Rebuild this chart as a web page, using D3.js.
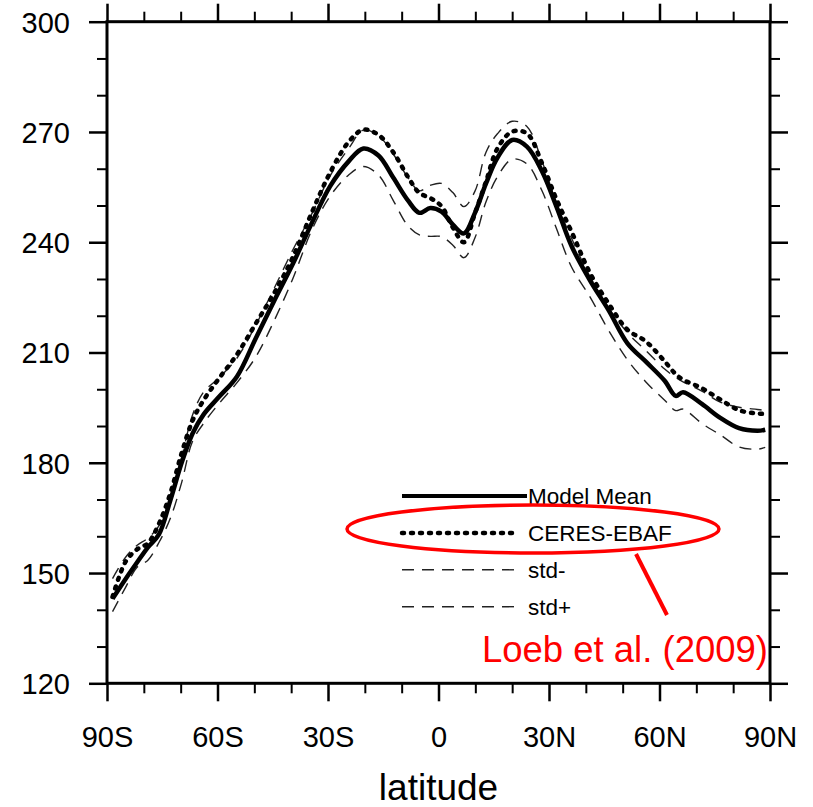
<!DOCTYPE html>
<html>
<head>
<meta charset="utf-8">
<script src="https://cdn.jsdelivr.net/npm/d3@7"></script>
<style>
  body { margin: 0; background: #fff; }
  svg { font-family: "Liberation Sans", Arial, Helvetica, sans-serif; }
</style>
</head>
<body>
<svg width="813" height="807"></svg>
<script>
// latitude (deg, negative = south)
const lats = [-88.5, -84.95, -81.9, -78.9, -75.9, -72.8, -69.8, -66.8, -63.8, -59.7, -54.7, -49.6, -44.6, -39.5, -34.5, -29.45, -24.4, -20.4, -16.3, -12.3,
  -8.25, -5.2, -2.2, 0.8, 3.9, 6.9, 9.9, 12.9, 16.0, 20.0, 24.0, 28.1, 32.1, 36.15, 41.2, 46.25, 51.3, 56.3, 61.4, 64.4, 66.4, 71.5, 76.5, 81.6, 86.6, 88.7]

const modelMean = [143.0, 148.4, 152.8, 157.0, 160.5, 169.8, 179.8, 187.9, 193.1, 197.8, 203.5, 213.9, 224.1, 234.2, 245.0, 255.2, 262.0, 265.5, 263.6, 257.6,
  251.3, 248.0, 249.3, 248.3, 244.8, 242.4, 248.0, 256.0, 263.0, 267.8, 266.0, 259.3, 249.5, 238.9, 229.5, 221.4, 212.5, 207.5, 202.3, 198.2, 199.2, 196.0, 192.2, 189.4, 188.7, 189.0]

const ceres = [143.5, 153.1, 156.4, 158.1, 163.4, 171.7, 182.4, 191.4, 197.0, 202.8, 209.5, 217.9, 226.2, 236.0, 247.8, 258.9, 267.3, 270.6, 269.2, 264.5,
  257.7, 253.4, 252.0, 249.8, 244.0, 240.0, 247.9, 256.5, 265.5, 270.1, 269.6, 261.5, 251.5, 242.8, 231.5, 223.2, 216.2, 213.0, 207.6, 204.1, 202.6, 200.3, 197.2, 194.3, 193.4, 193.3]

const stdMinus = [139.5, 146.1, 151.5, 153.5, 158.3, 164.9, 174.4, 185.8, 190.7, 196.0, 201.8, 208.8, 218.7, 230.2, 243.1, 252.5, 258.3, 260.6, 258.3, 251.4,
  244.4, 242.0, 241.6, 241.5, 239.2, 235.8, 241.2, 251.0, 257.8, 262.6, 261.3, 254.0, 243.5, 233.2, 225.0, 215.9, 208.0, 202.0, 197.0, 194.2, 194.6, 190.7, 187.6, 184.3, 183.7, 184.2]

const stdPlus = [148.5, 154.3, 157.5, 159.5, 162.8, 170.4, 181.2, 192.9, 199.2, 203.0, 208.5, 217.5, 227.5, 238.0, 247.5, 258.0, 265.5, 270.5, 269.0, 264.0,
  257.5, 254.0, 255.5, 256.0, 253.5, 249.7, 253.9, 264.5, 269.5, 272.9, 271.5, 262.0, 250.5, 241.0, 230.5, 222.0, 215.4, 210.5, 205.5, 203.2, 202.0, 199.5, 196.5, 195.1, 194.5, 194.2]

const legendNames = ["Model Mean", "CERES-EBAF", "std-", "std+"]

const xMajor = [-90, -60, -30, 0, 30, 60, 90]
const xMajorLabels = ["90S", "60S", "30S", "0", "30N", "60N", "90N"]
const xMinor = d3.range(-80, 90, 10).filter(d => d % 30 != 0)
const yMajor = [120, 150, 180, 210, 240, 270, 300]
const yMinor = d3.range(130, 300, 10).filter(d => d % 30 != 0)

const svg = d3.select("svg")
const plotLeft = 107, plotRight = 770, plotTop = 21.7, plotBottom = 683.3

const x = d3.scaleLinear().domain([-90, 90]).range([plotLeft, plotRight])
const y = d3.scaleLinear().domain([120, 300]).range([plotBottom, plotTop])

// line styles, one per series
const styles = {
  "Model Mean": { width: 4.5, dash: null, color: "#000", cap: "butt" },
  "CERES-EBAF": { width: 4.5, dash: "2 7", color: "#000", cap: "round" },
  "std-": { width: 1.4, dash: "12 8", color: "#222", cap: "butt" },
  "std+": { width: 1.4, dash: "12 8", color: "#222", cap: "butt" }
}
const seriesData = {
  "Model Mean": modelMean,
  "CERES-EBAF": ceres,
  "std-": stdMinus,
  "std+": stdPlus
}

const line = d3.line()
  .x(d => x(d[0]))
  .y(d => y(d[1]))
  .curve(d3.curveCatmullRom.alpha(0.5))

const drawOrder = ["std-", "std+", "Model Mean", "CERES-EBAF"]
drawOrder.forEach(name => {
  let s = styles[name]
  svg.append("path")
    .datum(lats.map((la, i) => [la, seriesData[name][i]]))
    .attr("d", line)
    .attr("fill", "none")
    .attr("stroke", s.color)
    .attr("stroke-width", s.width)
    .attr("stroke-dasharray", s.dash)
    .attr("stroke-linecap", s.cap)
    .attr("stroke-linejoin", "round")
})

// axes: major + minor ticks on all four sides, pointing outward
function styleAxis(g, w) {
  g.select(".domain").remove()
  g.selectAll(".tick line").attr("stroke", "#000").attr("stroke-width", w)
}

const fmtX = d => xMajorLabels[xMajor.indexOf(d)]

svg.append("g").attr("transform", "translate(0," + plotBottom + ")")
  .call(d3.axisBottom(x).tickValues(xMajor).tickSize(18).tickPadding(25).tickFormat(fmtX))
  .call(g => styleAxis(g, 2.5))
  .selectAll("text").attr("font-size", 29).attr("fill", "#000").attr("font-family", "Liberation Sans, Arial, sans-serif")
svg.append("g").attr("transform", "translate(0," + plotBottom + ")")
  .call(d3.axisBottom(x).tickValues(xMinor).tickSize(10).tickFormat(""))
  .call(g => styleAxis(g, 2))
svg.append("g").attr("transform", "translate(0," + plotTop + ")")
  .call(d3.axisTop(x).tickValues(xMajor).tickSize(18).tickFormat(""))
  .call(g => styleAxis(g, 2.5))
svg.append("g").attr("transform", "translate(0," + plotTop + ")")
  .call(d3.axisTop(x).tickValues(xMinor).tickSize(10).tickFormat(""))
  .call(g => styleAxis(g, 2))

svg.append("g").attr("transform", "translate(" + plotLeft + ",0)")
  .call(d3.axisLeft(y).tickValues(yMajor).tickSize(18).tickPadding(19).tickFormat(d3.format("d")))
  .call(g => styleAxis(g, 2.5))
  .selectAll("text").attr("font-size", 29).attr("fill", "#000").attr("dy", "0.36em").attr("font-family", "Liberation Sans, Arial, sans-serif")
svg.append("g").attr("transform", "translate(" + plotLeft + ",0)")
  .call(d3.axisLeft(y).tickValues(yMinor).tickSize(10).tickFormat(""))
  .call(g => styleAxis(g, 2))
svg.append("g").attr("transform", "translate(" + plotRight + ",0)")
  .call(d3.axisRight(y).tickValues(yMajor).tickSize(18).tickFormat(""))
  .call(g => styleAxis(g, 2.5))
svg.append("g").attr("transform", "translate(" + plotRight + ",0)")
  .call(d3.axisRight(y).tickValues(yMinor).tickSize(10).tickFormat(""))
  .call(g => styleAxis(g, 2))

// frame
svg.append("rect")
  .attr("x", plotLeft).attr("y", plotTop)
  .attr("width", plotRight - plotLeft).attr("height", plotBottom - plotTop)
  .attr("fill", "none").attr("stroke", "#000").attr("stroke-width", 3)

svg.append("text")
  .attr("x", (plotLeft + plotRight) / 2).attr("y", 800)
  .attr("text-anchor", "middle")
  .attr("font-size", 37)
  .text("latitude")

// legend
const legendY = d3.scalePoint().domain(legendNames).range([496, 606.7])
const leg = svg.append("g")
legendNames.forEach(name => {
  let s = styles[name]
  let yy = legendY(name)
  leg.append("line")
    .attr("x1", 402).attr("x2", name == "Model Mean" ? 527 : 519)
    .attr("y1", yy).attr("y2", yy)
    .attr("stroke", s.color)
    .attr("stroke-width", name == "Model Mean" ? 4 : s.width)
    .attr("stroke-dasharray", s.dash)
    .attr("stroke-linecap", s.cap)
  leg.append("text")
    .attr("x", 528).attr("y", yy).attr("dy", "0.36em")
    .attr("font-size", 22.5)
    .text(name)
})

// red annotation
const note = svg.append("g").attr("stroke", "#f00").attr("fill", "none")
note.append("ellipse")
  .attr("cx", 533).attr("cy", 529)
  .attr("rx", 186).attr("ry", 24)
  .attr("stroke-width", 3.5)
note.append("line")
  .attr("x1", 636).attr("y1", 554)
  .attr("x2", 667).attr("y2", 615)
  .attr("stroke-width", 4)
svg.append("text")
  .attr("x", 768).attr("y", 662)
  .attr("text-anchor", "end")
  .attr("font-size", 36.5)
  .attr("fill", "#f00")
  .text("Loeb et al. (2009)")
</script>
</body>
</html>
